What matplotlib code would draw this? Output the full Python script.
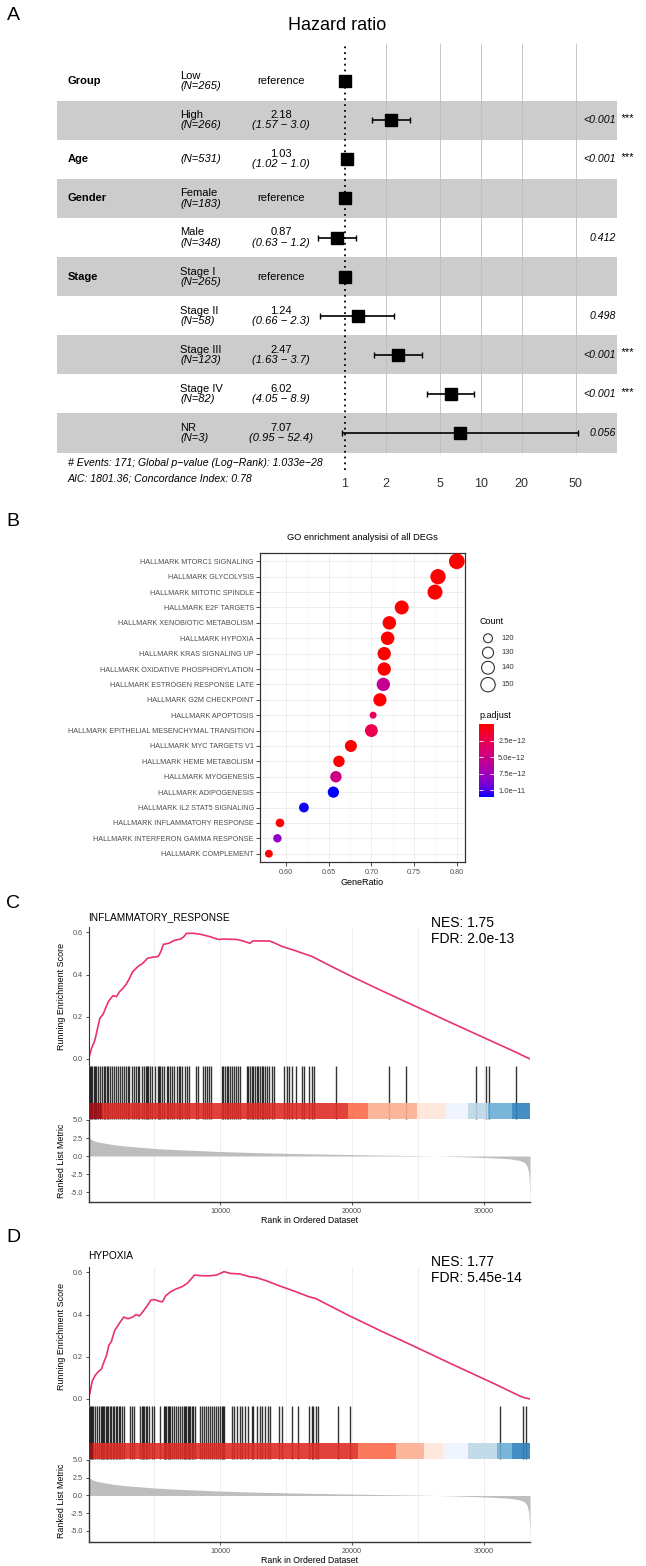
import numpy as np
import matplotlib
matplotlib.use("Agg")
import matplotlib.pyplot as plt
import matplotlib.transforms as mtransforms
from matplotlib.colors import LinearSegmentedColormap, Normalize
from matplotlib.cm import ScalarMappable

plt.rcParams['font.family'] = ['Liberation Sans', 'DejaVu Sans']

W, H = 646, 1566

# ---------------- panel A: Cox model forest plot ----------------
fp_vars = ["Group", "", "Age", "Gender", "", "Stage", "", "", "", ""]
fp_levels = ["Low", "High", "", "Female", "Male", "Stage I", "Stage II", "Stage III", "Stage IV", "NR"]
fp_n = [265, 266, 531, 183, 348, 265, 58, 123, 82, 3]
fp_hr = [1.0, 2.18, 1.03, 1.0, 0.87, 1.0, 1.24, 2.47, 6.02, 7.07]
fp_lo = [np.nan, 1.57, 1.02, np.nan, 0.63, np.nan, 0.66, 1.63, 4.05, 0.95]
fp_hi = [np.nan, 3.0, 1.04, np.nan, 1.2, np.nan, 2.3, 3.7, 8.9, 52.4]
fp_ci_text = ["", "(1.57 \u2212 3.0)", "(1.02 \u2212 1.0)", "", "(0.63 \u2212 1.2)", "",
              "(0.66 \u2212 2.3)", "(1.63 \u2212 3.7)", "(4.05 \u2212 8.9)", "(0.95 \u2212 52.4)"]
fp_ref = [True, False, False, True, False, True, False, False, False, False]
fp_p = ["", "<0.001", "<0.001", "", "0.412", "", "0.498", "<0.001", "<0.001", "0.056"]
fp_stars = ["", "***", "***", "", "", "", "", "***", "***", ""]
hr_ticks = [1, 2, 5, 10, 20, 50]
fp_footer = ["# Events: 171; Global p\u2212value (Log\u2212Rank): 1.033e\u221228",
             "AIC: 1801.36; Concordance Index: 0.78"]

# ---------------- panel B: enrichment dot plot ----------------
go_terms = ["HALLMARK MTORC1 SIGNALING", "HALLMARK GLYCOLYSIS", "HALLMARK MITOTIC SPINDLE",
            "HALLMARK E2F TARGETS", "HALLMARK XENOBIOTIC METABOLISM", "HALLMARK HYPOXIA",
            "HALLMARK KRAS SIGNALING UP", "HALLMARK OXIDATIVE PHOSPHORYLATION",
            "HALLMARK ESTROGEN RESPONSE LATE", "HALLMARK G2M CHECKPOINT", "HALLMARK APOPTOSIS",
            "HALLMARK EPITHELIAL MESENCHYMAL TRANSITION", "HALLMARK MYC TARGETS V1",
            "HALLMARK HEME METABOLISM", "HALLMARK MYOGENESIS", "HALLMARK ADIPOGENESIS",
            "HALLMARK IL2 STAT5 SIGNALING", "HALLMARK INFLAMMATORY RESPONSE",
            "HALLMARK INTERFERON GAMMA RESPONSE", "HALLMARK COMPLEMENT"]
go_ratio = [0.800, 0.778, 0.7745, 0.7355, 0.721, 0.719, 0.715, 0.715, 0.714, 0.710, 0.702,
            0.700, 0.676, 0.662, 0.6585, 0.6555, 0.621, 0.593, 0.590, 0.580]
go_count = [159, 156, 154, 147, 144, 144, 143, 143, 143, 142, 113,
            140, 135, 132, 132, 131, 124, 119, 118, 116]
go_padj = [1e-16, 2e-15, 3e-15, 5e-15, 1e-14, 1e-14, 2e-14, 2e-14, 5.6e-12, 3e-14, 2.8e-12,
           2.4e-12, 4e-14, 2e-14, 5.0e-12, 1.11e-11, 1.08e-11, 1e-14, 8.2e-12, 2e-14]
count_breaks = [120, 130, 140, 150]
padj_ticks = [2.5e-12, 5.0e-12, 7.5e-12, 1.0e-11]
padj_labels = ["2.5e\u221212", "5.0e\u221212", "7.5e\u221212", "1.0e\u221211"]
ratio_ticks = [0.60, 0.65, 0.70, 0.75, 0.80]

# ---------------- panels C/D: GSEA ----------------
n_genes = 33520
inf_es_rank = [0, 238, 488, 688, 863, 1113, 1288, 1538, 1863, 2113, 2363, 2613, 2863, 3113,
               3363, 3738, 4113, 4488, 4863, 5288, 5488, 5688, 6113, 6488, 6988, 7238, 7438,
               7988, 8363, 8738, 9238, 9863, 10238, 11238, 11738, 12238, 12488, 13738, 13988,
               14738, 15738, 16988, 18488, 19738, 22238, 24531, 27656, 30156, 32344, 33520]
inf_es = [0.0, 0.051, 0.09, 0.145, 0.193, 0.212, 0.24, 0.275, 0.30, 0.295, 0.319, 0.335, 0.354,
          0.382, 0.414, 0.437, 0.453, 0.477, 0.482, 0.485, 0.508, 0.543, 0.548, 0.561, 0.568,
          0.579, 0.595, 0.595, 0.592, 0.587, 0.579, 0.566, 0.568, 0.566, 0.559, 0.548, 0.559,
          0.559, 0.553, 0.532, 0.512, 0.485, 0.437, 0.398, 0.324, 0.258, 0.168, 0.097, 0.035, 0.0]
inf_hits = [38, 114, 190, 291, 392, 493, 595, 696, 873, 1050, 1151, 1252, 1404, 1505, 1632,
            1758, 1910, 2062, 2214, 2391, 2568, 2720, 2821, 2973, 3099, 3276, 3428, 3580, 3732,
            3833, 4035, 4238, 4339, 4440, 4541, 4668, 4794, 5047, 5250, 5351, 5452, 5604, 5756,
            5933, 6060, 6186, 6363, 6515, 6717, 6869, 6970, 7122, 7324, 7476, 7628, 8134, 8286,
            8716, 8842, 8969, 9146, 9298, 10108, 10234, 10361, 10487, 10614, 10740, 10867, 11018,
            11170, 11372, 11499, 12005, 12131, 12258, 12384, 12511, 12637, 12764, 12890, 13017,
            13143, 13270, 13396, 13523, 13700, 13902, 14105, 14864, 15041, 15218, 15421, 15724,
            16180, 16382, 16736, 16939, 17141, 18760, 22808, 24073, 29386, 30145, 30398, 32422]
inf_bar_edges = [0, 1000, 19722, 21189, 24908, 27109, 28830, 30348, 32170, 33520]

hyp_es_rank = [0, 113, 288, 488, 738, 988, 1113, 1363, 1538, 1738, 1988, 2238, 2488, 2688,
               2988, 3363, 3613, 3863, 4113, 4488, 4738, 4988, 5363, 5613, 5863, 6238, 6613,
               7113, 7488, 7788, 8038, 8488, 9113, 9738, 10288, 10738, 11488, 12238, 12738,
               13488, 14488, 15738, 16738, 17238, 18738, 19738, 22238, 24531, 27656, 30781,
               32813, 33100, 33520]
hyp_es = [0.0, 0.03, 0.086, 0.11, 0.129, 0.142, 0.166, 0.205, 0.253, 0.272, 0.325, 0.348,
          0.372, 0.388, 0.380, 0.388, 0.40, 0.393, 0.412, 0.444, 0.468, 0.471, 0.463, 0.46,
          0.489, 0.508, 0.52, 0.532, 0.547, 0.568, 0.587, 0.584, 0.583, 0.587, 0.603, 0.595,
          0.592, 0.579, 0.575, 0.56, 0.536, 0.508, 0.484, 0.476, 0.428, 0.396, 0.321, 0.255,
          0.163, 0.073, 0.012, 0.006, 0.0]
hyp_hits = [38, 114, 190, 266, 367, 493, 645, 797, 949, 1050, 1126, 1202, 1303, 1404, 1505,
            1607, 1708, 1860, 1961, 2062, 2188, 2315, 2416, 2568, 2669, 3150, 3276, 3479, 3934,
            4035, 4137, 4238, 4339, 4440, 4592, 4794, 4946, 5427, 5705, 5807, 5908, 6009, 6110,
            6211, 6312, 6464, 6616, 6768, 6920, 7072, 7223, 7324, 7426, 7527, 7628, 7729, 7830,
            7957, 8083, 8488, 8640, 8792, 8944, 9096, 9247, 9399, 9551, 9703, 9855, 10007,
            10108, 10209, 10310, 10867, 11018, 11246, 11499, 11625, 11878, 12131, 12384, 12511,
            12764, 13017, 13143, 13396, 13599, 13776, 14459, 14662, 15421, 15927, 16736, 16939,
            17066, 17243, 17395, 18967, 19853, 31239, 33010, 33187]
hyp_bar_edges = [0, 367, 20486, 23341, 25492, 26934, 28781, 30982, 32120, 33520]

metric_rank = [0, 100, 300, 600, 1000, 1500, 2000, 3000, 4000, 5000, 6500, 8000, 10000, 12500,
               15000, 17500, 20000, 22500, 25000, 26500, 28000, 29500, 31000, 32000, 32700,
               33100, 33300, 33420, 33480, 33520]
metric_val = [2.8, 2.45, 2.2, 2.0, 1.85, 1.7, 1.55, 1.35, 1.2, 1.05, 0.9, 0.78, 0.62, 0.48,
              0.37, 0.28, 0.2, 0.12, 0.05, 0.0, -0.08, -0.17, -0.28, -0.4, -0.6, -0.9, -1.4,
              -2.3, -3.8, -6.2]

bar_colors = ["#A50F15", "#DE2D26", "#FB6A4A", "#FCAE91", "#FEE5D9",
              "#EFF3FF", "#BDD7E7", "#6BAED6", "#3182BD"]

fig = plt.figure(figsize=(W / 100, H / 100), dpi=100)


def px_ax(x0, y0, x1, y1, **kw):
    return fig.add_axes([x0 / W, 1 - y1 / H, (x1 - x0) / W, (y1 - y0) / H], **kw)


# ================= A =================
axA = px_ax(56.8, 42.7, 617.3, 470)
axA.set_xscale("log")
axA.set_xlim(10 ** -2.1215, 10 ** 2.0059)
axA.set_ylim(9.945, -0.983)
rows = np.arange(len(fp_hr))
for k in rows:
    if k % 2 == 1:
        axA.axhspan(k - 0.5, k + 0.5, color="#cccccc", lw=0, zorder=0)
axA.vlines(hr_ticks[1:], -0.983, 9.5, color="#bdbdbd", lw=0.6, zorder=1)
axA.axvline(1, color="black", ls=(0, (1, 2.2)), lw=1.3, zorder=2)
hr = np.array(fp_hr)
lo = np.array(fp_lo)
hi = np.array(fp_hi)
ok = ~np.isnan(lo)
axA.errorbar(hr[ok], rows[ok], xerr=[hr[ok] - lo[ok], hi[ok] - hr[ok]], fmt="none",
             ecolor="black", elinewidth=1.2, capsize=2.3, capthick=1.0, zorder=3)
axA.plot(hr, rows, "s", color="black", ms=8.5, zorder=4)
axA.set_xticks(hr_ticks)
axA.set_xticklabels([str(t) for t in hr_ticks])
axA.xaxis.set_minor_locator(matplotlib.ticker.NullLocator())
axA.tick_params(axis="x", length=0, pad=6, labelsize=9, labelcolor="#333333")
axA.set_yticks([])
for s in axA.spines.values():
    s.set_visible(False)
axA.patch.set_alpha(0)

tA = mtransforms.blended_transform_factory(axA.transAxes, axA.transData)


def colA(px):
    return (px - 56.8) / 560.5


fs = 8
for k in rows:
    if fp_vars[k]:
        axA.text(colA(68), k, fp_vars[k], transform=tA, fontsize=fs, fontweight="bold",
                 va="center", ha="left")
    ntxt = "(N=%d)" % fp_n[k]
    if fp_levels[k]:
        axA.text(colA(180), k - 0.13, fp_levels[k], transform=tA, fontsize=fs, va="center", ha="left")
        axA.text(colA(180), k + 0.13, ntxt, transform=tA, fontsize=fs, style="italic",
                 va="center", ha="left")
    else:
        axA.text(colA(180), k, ntxt, transform=tA, fontsize=fs, style="italic", va="center", ha="left")
    if fp_ref[k]:
        axA.text(colA(281), k, "reference", transform=tA, fontsize=fs, va="center", ha="center")
    else:
        axA.text(colA(281), k - 0.13, "%.2f" % fp_hr[k], transform=tA, fontsize=fs,
                 va="center", ha="center")
        axA.text(colA(281), k + 0.13, fp_ci_text[k], transform=tA, fontsize=fs, style="italic",
                 va="center", ha="center")
    if fp_p[k]:
        axA.text(colA(616), k, fp_p[k], transform=tA, fontsize=7.6, style="italic",
                 va="center", ha="right")
    if fp_stars[k]:
        axA.text(colA(620), k - 0.06, fp_stars[k], transform=tA, fontsize=8, style="italic",
                 va="center", ha="left")

# ================= B =================
axB = px_ax(260, 552.7, 465, 862.3)
yb = np.arange(len(go_terms))
cmap = LinearSegmentedColormap.from_list(
    "padj", [(0, "#FF0000"), (0.25, "#E8005A"), (0.5, "#C40090"), (0.75, "#8F00C8"),
             (0.9, "#5500E8"), (1, "#0000FF")])
norm = Normalize(vmin=min(go_padj), vmax=max(go_padj))


def dot_area(c):
    d_px = np.sqrt(49 + 4.3 * (np.asarray(c, dtype=float) - 113))
    return (d_px * 0.72) ** 2


axB.scatter(go_ratio, yb, s=dot_area(go_count), c=go_padj, cmap=cmap, norm=norm,
            edgecolors="none", zorder=3)
axB.set_xlim(0.5696, 0.8096)
axB.set_ylim(len(go_terms) - 1 + 0.56, -0.56)
axB.set_xticks(ratio_ticks)
axB.set_xticklabels(["%.2f" % t for t in ratio_ticks])
axB.set_xticks([0.575, 0.625, 0.675, 0.725, 0.775], minor=True)
axB.set_yticks(yb)
axB.set_yticklabels(go_terms)
axB.grid(which="major", color="#ebebeb", lw=0.6)
axB.grid(which="minor", axis="x", color="#f2f2f2", lw=0.4)
axB.set_axisbelow(True)
axB.tick_params(which="major", labelsize=5.2, labelcolor="#4d4d4d", color="#333333",
                length=3, width=0.6, pad=1.5)
axB.tick_params(which="minor", length=0)
for s in axB.spines.values():
    s.set_color("#333333")
    s.set_linewidth(0.9)
axB.set_xlabel("GeneRatio", fontsize=6.5)
axB.xaxis.set_label_coords(0.5, -0.05)

cax = px_ax(479, 724.3, 494, 797.3)
cb = fig.colorbar(ScalarMappable(norm=norm, cmap=cmap), cax=cax)
cax.invert_yaxis()
cb.set_ticks(padj_ticks)
cb.set_ticklabels(padj_labels)
cb.outline.set_visible(False)
cax.tick_params(direction="in", color="white", length=3, width=0.6, left=True, right=True,
                labelsize=5.4, labelcolor="#333333", pad=3)

# ================= C / D =================


def gsea_panel(y_top, es_rank, es_val, hits, edges, ylim3):
    ax1 = px_ax(88.5, y_top, 530, y_top + 138.3)
    ax2 = px_ax(88.5, y_top + 138.3, 530, y_top + 193)
    ax3 = px_ax(88.5, y_top + 193, 530, y_top + 275.3)
    for a in (ax1, ax2, ax3):
        a.set_xlim(0, n_genes)
        a.set_xticks([10000, 20000, 30000])
        a.set_xticks([5000, 15000, 25000], minor=True)
        a.grid(which="both", axis="x", color="#ebebeb", lw=0.6)
        a.set_axisbelow(True)
        for s in ("top", "right"):
            a.spines[s].set_visible(False)
        a.tick_params(which="minor", length=0)
        a.tick_params(labelsize=5.2, labelcolor="#4d4d4d", color="#333333", length=2.5,
                      width=0.6, pad=1.5)
    # running enrichment score
    ax1.plot(es_rank, es_val, color="#E8336B", lw=1.2)
    ax1.set_ylim(-0.03, 0.625)
    ax1.set_yticks([0.0, 0.2, 0.4, 0.6])
    ax1.set_yticklabels(["0.0", "0.2", "0.4", "0.6"])
    ax1.spines["bottom"].set_visible(False)
    ax1.spines["left"].set_color("#333333")
    ax1.tick_params(axis="x", bottom=False, labelbottom=False)
    ax1.set_ylabel("Running Enrichment Score", fontsize=6.4)
    ax1.yaxis.set_label_coords(-0.05, 0.5)
    # hits + colour bar
    ax2.set_ylim(0, 1)
    ax2.vlines(hits, 0.018, 0.987, color="black", lw=1.0, alpha=0.8, zorder=2)
    for x0, x1, c in zip(edges[:-1], edges[1:], bar_colors):
        ax2.axvspan(x0, x1, ymin=0.018, ymax=0.305, color=c, alpha=0.9, lw=0, zorder=3)
    ax2.set_yticks([])
    ax2.tick_params(axis="x", bottom=False, labelbottom=False)
    ax2.spines["bottom"].set_visible(False)
    ax2.spines["left"].set_visible(False)
    ax2.patch.set_alpha(0)
    # ranked list metric
    ax3.fill_between(metric_rank, metric_val, 0, color="#bebebe", lw=0)
    ax3.set_ylim(*ylim3)
    ax3.set_yticks([-5.0, -2.5, 0.0, 2.5, 5.0])
    ax3.set_yticklabels(["-5.0", "-2.5", "0.0", "2.5", "5.0"])
    ax3.set_xticklabels(["10000", "20000", "30000"])
    for s in ("left", "bottom"):
        ax3.spines[s].set_color("#333333")
        ax3.spines[s].set_linewidth(1.0)
    ax3.set_ylabel("Ranked List Metric", fontsize=6.4)
    ax3.yaxis.set_label_coords(-0.05, 0.5)
    ax3.set_xlabel("Rank in Ordered Dataset", fontsize=6.3, labelpad=1)
    return ax1


gsea_panel(927, inf_es_rank, inf_es, inf_hits, inf_bar_edges, (-6.43, 5.0))
gsea_panel(1267, hyp_es_rank, hyp_es, hyp_hits, hyp_bar_edges, (-6.6, 5.0))

# ================= overlay: labels, legends =================
ov = fig.add_axes([0, 0, 1, 1], zorder=10)
ov.set_xlim(0, W)
ov.set_ylim(H, 0)
ov.axis("off")
for lab, (x, y) in zip("ABCD", [(13, 16), (13, 522), (13, 903), (13, 1237)]):
    ov.text(x, y, lab, fontsize=14, ha="center", va="center")
ov.text(337.5, 25, "Hazard ratio", fontsize=13, ha="center", va="center")
ov.text(68, 462.7, fp_footer[0], fontsize=7.6, style="italic", ha="left", va="center")
ov.text(68, 478.3, fp_footer[1], fontsize=7.6, style="italic", ha="left", va="center")
ov.text(362, 538, "GO enrichment analysisi of all DEGs", fontsize=6.7, ha="center", va="center")

ov.text(479, 622, "Count", fontsize=6.5, ha="left", va="center")
leg_y = [638.3, 652.7, 667.7, 684.7]
ov.scatter([488] * len(count_breaks), leg_y, s=dot_area(count_breaks), facecolors="none",
           edgecolors="#333333", linewidths=0.8)
for yy, c in zip(leg_y, count_breaks):
    ov.text(501.7, yy, str(c), fontsize=5.4, ha="left", va="center", color="#333333")
ov.text(479, 716, "p.adjust", fontsize=6.5, ha="left", va="center")

ov.text(88.5, 916.7, "INFLAMMATORY_RESPONSE", fontsize=7.3, ha="left", va="center")
ov.text(431, 923.3, "NES: 1.75", fontsize=10, ha="left", va="center")
ov.text(431, 939.3, "FDR: 2.0e-13", fontsize=10, ha="left", va="center")
ov.text(88.5, 1255.7, "HYPOXIA", fontsize=7.3, ha="left", va="center")
ov.text(431, 1261.7, "NES: 1.77", fontsize=10, ha="left", va="center")
ov.text(431, 1278.3, "FDR: 5.45e-14", fontsize=10, ha="left", va="center")

fig.savefig("out.png", dpi=100)
